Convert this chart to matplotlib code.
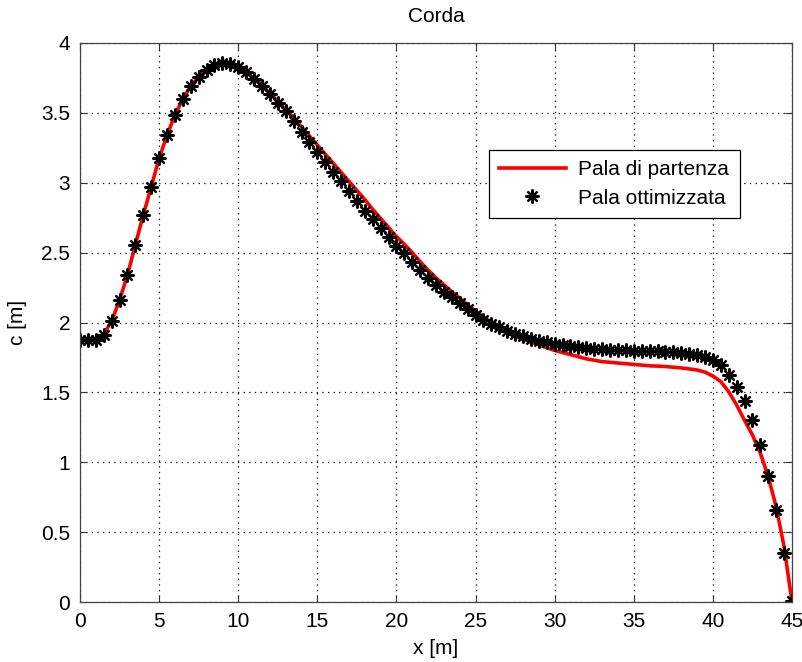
import numpy as np
import matplotlib
matplotlib.use("Agg")
import matplotlib.pyplot as plt

# posizioni lungo la pala [m], passo 0.5 m
x = np.linspace(0.0, 45.0, 91)

# corda pala ottimizzata [m] (asterischi)
c_ott = [1.875, 1.875, 1.875, 1.91, 2.01, 2.16, 2.34, 2.555, 2.77, 2.97,
         3.175, 3.34, 3.485, 3.60, 3.69, 3.76, 3.81, 3.84, 3.855, 3.85,
         3.83, 3.79, 3.745, 3.695, 3.635, 3.57, 3.51, 3.44, 3.365, 3.29,
         3.22, 3.15, 3.08, 3.01, 2.94, 2.87, 2.80, 2.74, 2.675, 2.61,
         2.55, 2.495, 2.435, 2.378, 2.32, 2.27, 2.22, 2.18, 2.14, 2.10,
         2.055, 2.02, 1.99, 1.965, 1.94, 1.92, 1.90, 1.885, 1.87, 1.857,
         1.847, 1.838, 1.83, 1.823, 1.817, 1.812, 1.808, 1.805, 1.802, 1.80,
         1.798, 1.797, 1.795, 1.793, 1.791, 1.788, 1.784, 1.777, 1.768, 1.755,
         1.73, 1.695, 1.625, 1.535, 1.44, 1.30, 1.125, 0.905, 0.655, 0.35,
         0.01]

# corda pala di partenza [m] (linea rossa)
c_part = [1.875, 1.875, 1.88, 1.915, 2.01, 2.16, 2.34, 2.555, 2.77, 2.97,
          3.175, 3.34, 3.485, 3.60, 3.69, 3.76, 3.81, 3.84, 3.855, 3.85,
          3.83, 3.795, 3.75, 3.70, 3.64, 3.585, 3.525, 3.465, 3.40, 3.335,
          3.27, 3.205, 3.14, 3.075, 3.01, 2.945, 2.88, 2.81, 2.745, 2.68,
          2.615, 2.56, 2.50, 2.435, 2.375, 2.32, 2.27, 2.22, 2.175, 2.125,
          2.08, 2.04, 2.0, 1.967, 1.935, 1.905, 1.88, 1.86, 1.84, 1.82,
          1.80, 1.785, 1.77, 1.755, 1.74, 1.73, 1.72, 1.715, 1.71, 1.705,
          1.70, 1.695, 1.69, 1.688, 1.685, 1.68, 1.675, 1.668, 1.66, 1.645,
          1.617, 1.577, 1.505, 1.41, 1.30, 1.195, 1.065, 0.897, 0.68, 0.396,
          0.0]

plt.rcParams['font.family'] = ['Liberation Sans', 'DejaVu Sans']

fig = plt.figure(figsize=(8.03, 6.62), dpi=100)
ax = fig.add_axes([80/803, 1-602/662, 712/803, 559/662])

ax.plot(x, c_part, color='red', linewidth=2.6, label='Pala di partenza')
ax.plot(x, c_ott, linestyle='none', marker=(8, 2, 0), markersize=10,
        markeredgewidth=1.6, color='black', label='Pala ottimizzata')

ax.set_xlim(0, 45)
ax.set_ylim(0, 4)
ax.set_xticks(np.arange(0, 46, 5))
ax.set_yticks(np.arange(0, 4.01, 0.5))
ax.set_yticklabels(['0', '0.5', '1', '1.5', '2', '2.5', '3', '3.5', '4'])
ax.grid(True, color='black', linestyle=(0, (1, 3.5)), linewidth=0.9)
ax.tick_params(direction='in', length=5, width=0.8, labelsize=15,
               top=True, right=True, pad=7, colors='#333333', labelcolor='black')
for s in ax.spines.values():
    s.set_color('#444444')
    s.set_linewidth(0.9)

ax.set_title('Corda', fontsize=15, pad=15)
ax.set_xlabel('x [m]', fontsize=15, labelpad=6)
ax.set_ylabel('c [m]', fontsize=15, labelpad=10)

leg = ax.legend(loc='upper left', bbox_to_anchor=(0.574, 0.8086),
                borderaxespad=0, fontsize=15, handlelength=3.2,
                fancybox=False, framealpha=1, edgecolor='black',
                borderpad=0.5, labelspacing=0.45, handletextpad=0.6)
leg.get_frame().set_linewidth(0.9)

fig.savefig('out.png', dpi=100)
